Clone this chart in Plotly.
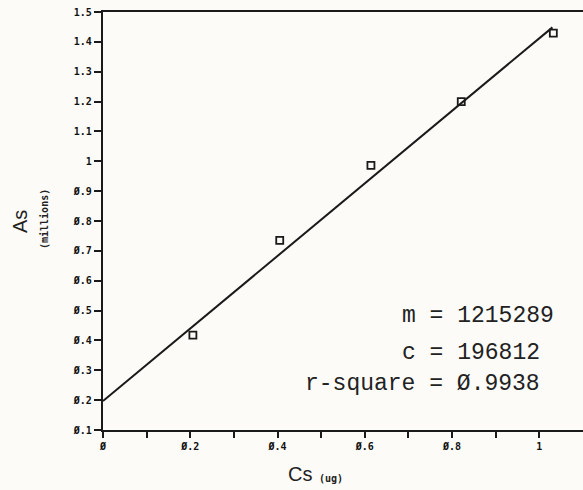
import plotly.graph_objects as go

# Data
cs_points = [0.206, 0.405, 0.614, 0.821, 1.032]
as_points = [0.418, 0.735, 0.986, 1.200, 1.429]
slope_m = 1.215289      # millions per ug
intercept_c = 0.196812  # millions
fit_x = [0.0, 1.03]
x_tick_vals = [0, 0.1, 0.2, 0.3, 0.4, 0.5, 0.6, 0.7, 0.8, 0.9, 1.0]
x_tick_text = ["Ø", "", "Ø.2", "", "Ø.4", "", "Ø.6", "", "Ø.8", "", "1"]
y_tick_vals = [0.1, 0.2, 0.3, 0.4, 0.5, 0.6, 0.7, 0.8, 0.9, 1.0, 1.1, 1.2, 1.3, 1.4, 1.5]
y_tick_text = ["Ø.1", "Ø.2", "Ø.3", "Ø.4", "Ø.5", "Ø.6", "Ø.7", "Ø.8", "Ø.9",
               "1", "1.1", "1.2", "1.3", "1.4", "1.5"]
stats_lines = [("m = 1215289", 2), ("c = 196812", 2), ("r-square = Ø.9938", 9)]

fit_y = [slope_m * x + intercept_c for x in fit_x]

W, H = 583, 490
L, R, T, B = 103, 0, 12, 60
pw, ph = W - L - R, H - T - B

def px(xp):
    return (xp - L) / pw

def py(yp):
    return (H - B - yp) / ph

fig = go.Figure()
fig.add_trace(go.Scatter(x=fit_x, y=fit_y, mode="lines",
                         line=dict(color="#1a1a1a", width=2), showlegend=False))
fig.add_trace(go.Scatter(x=cs_points, y=as_points, mode="markers",
                         marker=dict(symbol="square-open", size=7, color="#1a1a1a",
                                     line=dict(width=1.8, color="#1a1a1a")),
                         showlegend=False))

tickfont = dict(family="DejaVu Sans Mono", size=10, color="#111", weight="bold")

fig.update_xaxes(range=[0, 1.1], tickvals=x_tick_vals, ticktext=x_tick_text,
                 showline=True, linecolor="#1a1a1a", linewidth=2.2, mirror=True,
                 ticks="outside", ticklen=6, tickwidth=2, tickcolor="#1a1a1a",
                 showgrid=False, zeroline=False, tickfont=tickfont)
fig.update_yaxes(range=[0.1, 1.5], tickvals=y_tick_vals, ticktext=y_tick_text,
                 showline=True, linecolor="#1a1a1a", linewidth=2.2,
                 ticks="outside", ticklen=7, tickwidth=2, tickcolor="#1a1a1a",
                 showgrid=False, zeroline=False, tickfont=tickfont)

annots = []
char_w = 13.8
eq_x = 434
y_centers = [316, 353, 384]
for (txt, k), yc in zip(stats_lines, y_centers):
    annots.append(dict(x=px(eq_x - (k + 0.5) * char_w), y=py(yc), xref="paper", yref="paper",
                       text=txt, showarrow=False, xanchor="left", yanchor="middle",
                       font=dict(family="Liberation Mono", size=23, color="#222")))

annots.append(dict(x=px(20), y=py(222), xref="paper", yref="paper", text="As",
                   showarrow=False, textangle=-90, xanchor="center", yanchor="middle",
                   font=dict(family="Liberation Sans", size=20, color="#222")))
annots.append(dict(x=px(44), y=py(219), xref="paper", yref="paper", text="(millions)",
                   showarrow=False, textangle=-90, xanchor="center", yanchor="middle",
                   font=dict(family="DejaVu Sans Mono", size=10, color="#222", weight="bold")))
annots.append(dict(x=px(300), y=py(474), xref="paper", yref="paper", text="Cs",
                   showarrow=False, xanchor="center", yanchor="middle",
                   font=dict(family="Liberation Sans", size=20, color="#222")))
annots.append(dict(x=px(331), y=py(478), xref="paper", yref="paper", text="(ug)",
                   showarrow=False, xanchor="center", yanchor="middle",
                   font=dict(family="DejaVu Sans Mono", size=10, color="#222", weight="bold")))

fig.update_layout(width=W, height=H, margin=dict(l=L, r=R, t=T, b=B),
                  paper_bgcolor="#fcfbf7", plot_bgcolor="#fcfbf7",
                  annotations=annots)

fig.write_html("out.html")
